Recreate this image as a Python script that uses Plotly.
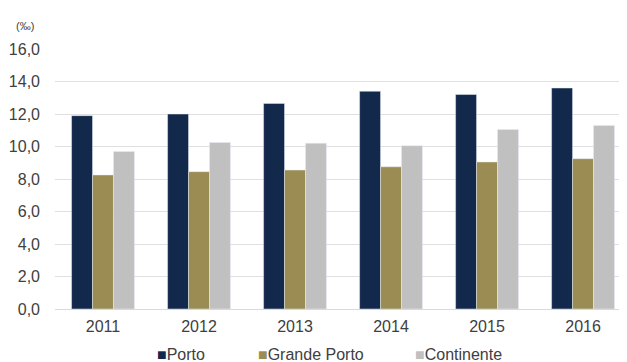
import plotly.graph_objects as go

years = ["2011", "2012", "2013", "2014", "2015", "2016"]
porto = [11.9, 12.0, 12.65, 13.4, 13.2, 13.6]
grande_porto = [8.25, 8.45, 8.55, 8.75, 9.05, 9.25]
continente = [9.7, 10.25, 10.2, 10.05, 11.05, 11.3]
series_names = ["Porto", "Grande Porto", "Continente"]
series_colors = ["#13294b", "#9b8c53", "#c0c0c0"]
y_ticks = [0, 2, 4, 6, 8, 10, 12, 14, 16]
y_tick_labels = ["0,0", "2,0", "4,0", "6,0", "8,0", "10,0", "12,0", "14,0", "16,0"]
unit_label = "(‰)"

# the page body adds an 8px margin, so the figure is drawn 8px in from the window corner
OFF = 8
W, H = 627 - OFF, 362 - OFF
L, R, T = 55 - OFF, 0, 49 - OFF
B = H - (309 - OFF)
pw, ph = W - L - R, H - T - B


def px_x(x):
    return (x - OFF - L) / pw


def px_y(y):
    return (H - B - (y - OFF)) / ph


fig = go.Figure()
for name, vals, col in zip(series_names, [porto, grande_porto, continente], series_colors):
    fig.add_trace(go.Bar(name=name, x=years, y=vals, marker_color=col, showlegend=False))

# legend built as text items below the chart
legend_px = [155, 256, 413]
annots = []
for name, col, px in zip(series_names, series_colors, legend_px):
    annots.append(dict(
        text=f'<span style="color:{col}">■</span>{name}',
        x=px_x(px), y=px_y(354), xref="paper", yref="paper",
        xanchor="left", yanchor="middle", showarrow=False,
        font=dict(size=16, color="#404040")))
annots.append(dict(text=unit_label, x=px_x(25), y=px_y(26),
                   xref="paper", yref="paper", xanchor="center", yanchor="middle",
                   showarrow=False, font=dict(size=11, color="#404040")))

fig.update_layout(
    width=W, height=H,
    margin=dict(l=L, r=R, t=T, b=B, autoexpand=False),
    paper_bgcolor="white", plot_bgcolor="white",
    barmode="group", bargap=0.345, bargroupgap=0,
    font=dict(family="Liberation Sans, Arial, sans-serif", size=16, color="#404040"),
    showlegend=False,
    xaxis=dict(type="category", range=[-0.5, 5.458], showgrid=False,
               showline=True, linecolor="#d9d9d9", ticks="", ticklabelstandoff=3,
               tickfont=dict(size=16)),
    yaxis=dict(range=[0, 16], tickvals=y_ticks, ticktext=y_tick_labels,
               showgrid=True, gridcolor="#e0e0e0", gridwidth=1, zeroline=False,
               ticks="", ticklabelstandoff=14, tickfont=dict(size=16)),
    annotations=annots,
)
fig.write_html("out.html")
